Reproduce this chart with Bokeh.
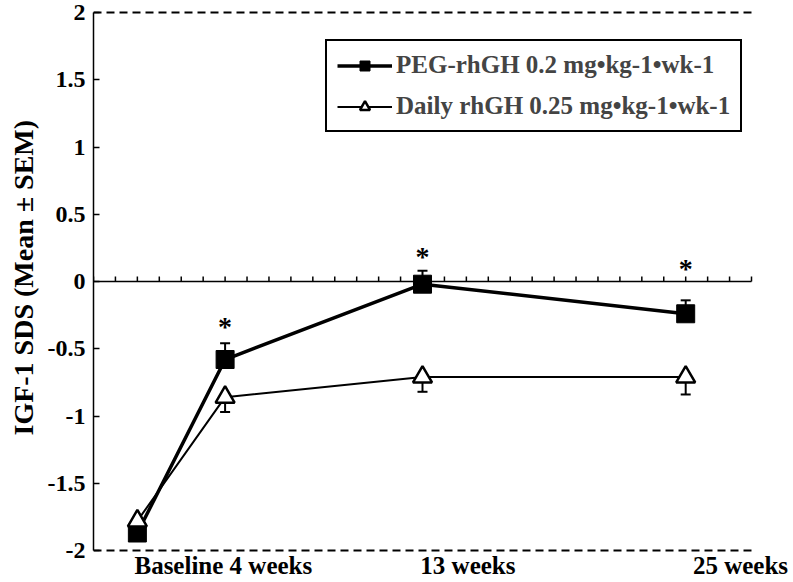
import numpy as np
from bokeh.plotting import figure
from bokeh.models import (Range1d, FixedTicker, Whisker, TeeHead, ColumnDataSource,
                          Legend, LegendItem, Title)
from bokeh.core.properties import value
from bokeh.embed import file_html
from bokeh.resources import INLINE

# ---------------- data ----------------
weeks = [0, 4, 13, 25]
peg_mean = [-1.87, -0.58, -0.02, -0.24]
peg_sem = [0.03, 0.12, 0.10, 0.10]
daily_mean = [-1.78, -0.86, -0.71, -0.71]
daily_sem = [0.03, 0.11, 0.11, 0.13]
sig_weeks = [4, 13, 25]
sig_y = [-0.31, 0.21, 0.12]
sig_text = ["*", "*", "*"]
x_labels = ["Baseline 4 weeks", "13 weeks", "25 weeks"]
y_ticks = [-2, -1.5, -1, -0.5, 0, 0.5, 1, 1.5, 2]
y_tick_labels = ["-2", "-1.5", "-1", "-0.5", "0", "0.5", "1", "1.5", "2"]
series_names = ["PEG-rhGH 0.2 mg\u2022kg-1\u2022wk-1", "Daily rhGH 0.25 mg\u2022kg-1\u2022wk-1"]
y_title = "IGF-1 SDS (Mean \u00b1 SEM)"

# ---------------- layout constants ----------------
FONT = "Liberation Serif"
W, H = 790, 580
X_MIN, X_MAX = -2, 28            # week axis drawn on the zero line
PX_PER_WEEK = 21.93
X_HI = X_MAX + 39 / PX_PER_WEEK  # room on the right for the last category label
x_label_pos = [3.92, 15.07, 27.5]
PX_PER_UNIT = 134.5              # vertical pixels per SDS unit
Y_HI = y_ticks[-1] + 12 / PX_PER_UNIT
Y_LO = y_ticks[0] - 30 / PX_PER_UNIT

p = figure(width=W, height=H, output_backend="svg", toolbar_location=None,
           x_range=Range1d(X_MIN, X_HI), y_range=Range1d(Y_LO, Y_HI),
           x_axis_location=None, y_axis_location="left",
           min_border_left=93, min_border_right=0, min_border_top=0, min_border_bottom=0)
p.outline_line_color = None
p.background_fill_color = "white"
p.xgrid.visible = False
p.ygrid.visible = False

# dashed lines at y = +-2
for loc in (y_ticks[0], y_ticks[-1]):
    p.segment(x0=[X_MIN], y0=[loc], x1=[X_MAX], y1=[loc], line_color="black",
              line_width=2, line_dash="8 5")

# y axis
ya = p.yaxis[0]
ya.bounds = (y_ticks[0], y_ticks[-1])
ya.ticker = FixedTicker(ticks=y_ticks)
ya.major_label_overrides = {t: l for t, l in zip(y_ticks, y_tick_labels)}
ya.major_tick_in = 6
ya.major_tick_out = 0
ya.minor_tick_line_color = None
ya.axis_line_width = 1.5
ya.major_tick_line_width = 1.5
ya.major_label_standoff = 8
ya.major_label_text_font = FONT
ya.major_label_text_font_style = "bold"
ya.major_label_text_font_size = "24px"
ya.major_label_text_color = "black"

# y title (left-side title so it can sit where the reference has it)
p.add_layout(Title(text=y_title, align="left", vertical_align="top", offset=145, standoff=8,
                   text_font=FONT, text_font_style="bold", text_font_size="28px",
                   text_color="black"), "left")

# zero line with weekly tick marks pointing up
wk_ticks = np.arange(X_MIN, X_MAX + 1)
p.segment(x0=[X_MIN], y0=[0], x1=[X_MAX], y1=[0], line_color="black", line_width=1.5)
p.segment(x0=wk_ticks, y0=np.zeros(len(wk_ticks)), x1=wk_ticks,
          y1=np.full(len(wk_ticks), 5 / PX_PER_UNIT), line_color="black", line_width=1.5)

# error bars
peg_src = ColumnDataSource(dict(x=weeks, y=peg_mean,
                                up=[m + s for m, s in zip(peg_mean, peg_sem)]))
daily_src = ColumnDataSource(dict(x=weeks, y=daily_mean,
                                  lo=[m - s for m, s in zip(daily_mean, daily_sem)]))
p.add_layout(Whisker(source=peg_src, base="x", lower="y", upper="up", line_width=2,
                     upper_head=TeeHead(size=10, line_width=2), lower_head=None))
p.add_layout(Whisker(source=daily_src, base="x", lower="lo", upper="y", line_width=2,
                     lower_head=TeeHead(size=10, line_width=2), upper_head=None))

# series
l1 = p.line("x", "y", source=peg_src, line_color="black", line_width=3.5)
m1 = p.scatter("x", "y", source=peg_src, marker="square", size=18,
               fill_color="black", line_color="black")
l2 = p.line("x", "y", source=daily_src, line_color="black", line_width=2)
m2 = p.scatter("x", "y", source=daily_src, marker="triangle", size=19,
               fill_color="white", line_color="black", line_width=2.5)

# significance asterisks
p.text(x=sig_weeks, y=sig_y, text=sig_text, text_font=value(FONT), text_font_style="bold",
       text_font_size="28px", text_align="center", text_baseline="alphabetic",
       y_offset=3, text_color="black")

# category labels under the plot area
p.text(x=x_label_pos, y=[y_ticks[0]] * len(x_labels), text=x_labels,
       text_font=value(FONT), text_font_style="bold", text_font_size="25px",
       text_align="center", text_baseline="alphabetic", y_offset=15, text_color="black")

legend = Legend(items=[LegendItem(label=series_names[0], renderers=[l1, m1]),
                       LegendItem(label=series_names[1], renderers=[l2, m2])],
                location=(232, 448), border_line_color="black", border_line_width=2,
                border_line_alpha=1, padding=10, spacing=13, glyph_width=55,
                glyph_height=25, label_height=25, label_standoff=4,
                label_text_font=FONT, label_text_font_style="bold",
                label_text_font_size="25px", label_text_line_height=1.0,
                background_fill_alpha=1, margin=0)
p.add_layout(legend)

open("out.html", "w").write(file_html(p, INLINE))
